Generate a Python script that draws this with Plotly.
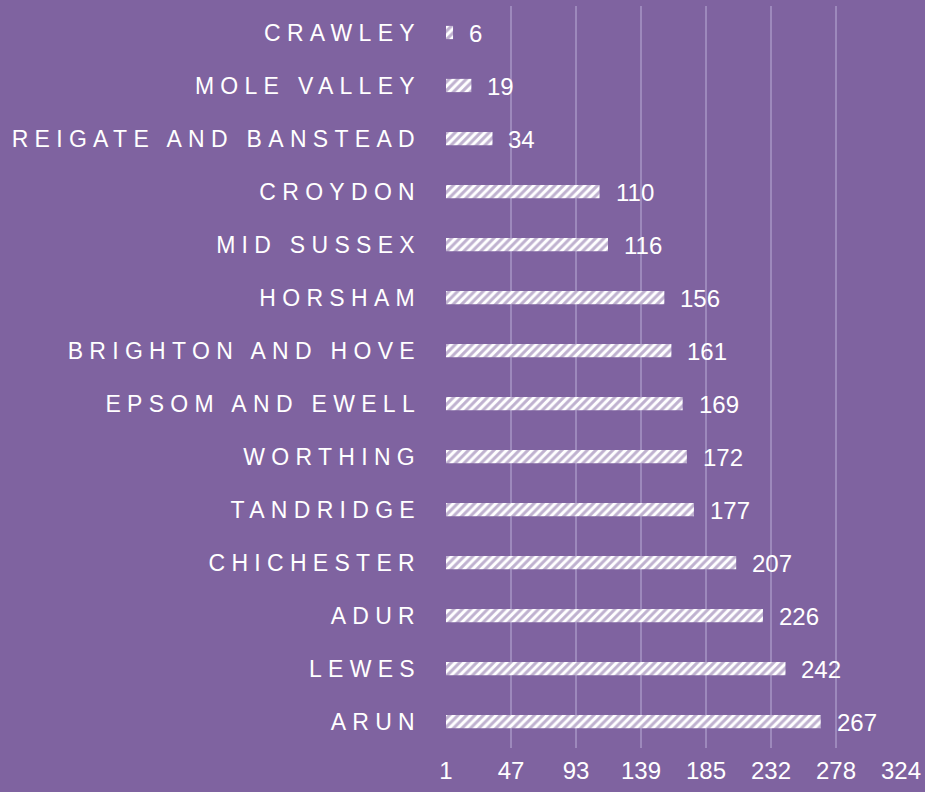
import numpy as np
import plotly.graph_objects as go

categories = ["CRAWLEY", "MOLE VALLEY", "REIGATE AND BANSTEAD", "CROYDON", "MID SUSSEX",
              "HORSHAM", "BRIGHTON AND HOVE", "EPSOM AND EWELL", "WORTHING", "TANDRIDGE",
              "CHICHESTER", "ADUR", "LEWES", "ARUN"]
values = [6, 19, 34, 110, 116, 156, 161, 169, 172, 177, 207, 226, 242, 267]
tick_labels = ["1", "47", "93", "139", "185", "232", "278", "324"]

BG = "#7F63A0"
GRID = "#9D89BC"
FONT = "Liberation Sans, Arial, sans-serif"

tick_vals = np.linspace(1, 324, len(tick_labels))

fig = go.Figure()
fig.add_trace(go.Bar(
    x=values, y=categories, orientation="h", width=0.25,
    marker=dict(color="white", line=dict(width=0),
                pattern=dict(shape="/", fgcolor=BG, size=6, solidity=0.5)),
    hoverinfo="skip", showlegend=False,
))

for c, v in zip(categories, values):
    fig.add_annotation(x=v, y=c, text=str(v), showarrow=False, xanchor="left",
                       xshift=14, yshift=-1, font=dict(family=FONT, size=24, color="white"))

fig.update_layout(
    width=925, height=792,
    paper_bgcolor=BG, plot_bgcolor=BG,
    margin=dict(l=446, r=24, t=6, b=44, autoexpand=False),
    font=dict(family=FONT, size=24, color="white"),
    xaxis=dict(range=[1, 324], tickvals=tick_vals, ticktext=tick_labels,
               showgrid=True, gridcolor=GRID, gridwidth=1.5, zeroline=False,
               showline=False, ticks="", ticklabelstandoff=6,
               tickfont=dict(family=FONT, size=24, color="white")),
    yaxis=dict(autorange="reversed", showgrid=False, zeroline=False, showline=False,
               ticks="", ticklabelstandoff=24,
               tickfont=dict(family=FONT, size=23, color="white")),
)

post = """
document.body.style.margin='0';
document.body.style.padding='0';
document.body.style.background='%s';
document.querySelectorAll('.ytick text').forEach(function(t){ t.style.letterSpacing='6.3px'; });
""" % BG
fig.write_html("out.html", post_script=post, config={"displayModeBar": False})
